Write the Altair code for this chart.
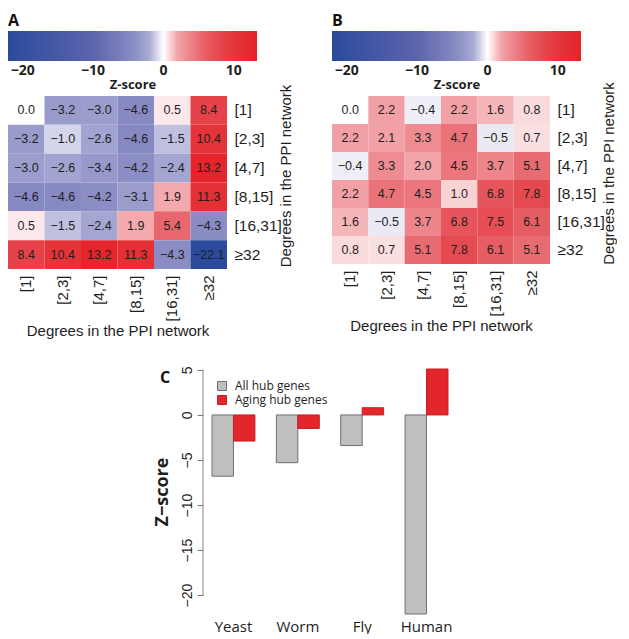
import altair as alt
import pandas as pd

# ---------------- data ----------------
degree_bins = ["[1]", "[2,3]", "[4,7]", "[8,15]", "[16,31]", "≥32"]

z_all = [
    [0.0, -3.2, -3.0, -4.6, 0.5, 8.4],
    [-3.2, -1.0, -2.6, -4.6, -1.5, 10.4],
    [-3.0, -2.6, -3.4, -4.2, -2.4, 13.2],
    [-4.6, -4.6, -4.2, -3.1, 1.9, 11.3],
    [0.5, -1.5, -2.4, 1.9, 5.4, -4.3],
    [8.4, 10.4, 13.2, 11.3, -4.3, -22.1],
]
z_aging = [
    [0.0, 2.2, -0.4, 2.2, 1.6, 0.8],
    [2.2, 2.1, 3.3, 4.7, -0.5, 0.7],
    [-0.4, 3.3, 2.0, 4.5, 3.7, 5.1],
    [2.2, 4.7, 4.5, 1.0, 6.8, 7.8],
    [1.6, -0.5, 3.7, 6.8, 7.5, 6.1],
    [0.8, 0.7, 5.1, 7.8, 6.1, 5.1],
]

species = ["Yeast", "Worm", "Fly", "Human"]
all_hub = [-6.8, -5.3, -3.4, -22.1]
aging_hub = [-2.9, -1.5, 0.8, 5.1]
series_names = ["All hub genes", "Aging hub genes"]

colorbar_ticks = [-20, -10, 0, 10]
zscore_ticks = [5, 0, -5, -10, -15, -20]

# colour ramp of the heatmaps
color_stops = [-22.1, -10, -4.5, -2, 0, 2, 5.5, 9, 13.3]
color_values = ["#2b4a9b", "#5c64ac", "#878ac2", "#a9abd4", "#ffffff",
                "#f2a4a9", "#e8646b", "#e43c42", "#e4242a"]

TXT = "#1e1e1e"


def fmt(v):
    s = f"{abs(v):.1f}"
    return ("\u2212" + s) if v < 0 else s


def heatmap(mat, letter, w, h):
    recs = []
    for i, r in enumerate(degree_bins):
        for j, c in enumerate(degree_bins):
            v = mat[i][j]
            recs.append({"row": r, "col": c, "z": v, "label": fmt(v)})
    df = pd.DataFrame(recs)
    base = alt.Chart(df).encode(
        x=alt.X("col:N", sort=degree_bins,
                axis=alt.Axis(title="Degrees in the PPI network", labelAngle=270,
                              labelFont="Liberation Sans", labelFontSize=15,
                              labelColor=TXT, domain=False, ticks=False,
                              labelPadding=6, titleFont="Liberation Sans",
                              titleFontSize=15, titleFontWeight="normal",
                              titleColor=TXT, titlePadding=3)),
        y=alt.Y("row:N", sort=degree_bins,
                axis=alt.Axis(orient="right", title="Degrees in the PPI network",
                              titleAngle=270, titleBaseline="top",
                              titleY=h / 2 - 7,
                              labelFont="Liberation Sans",
                              labelFontSize=15.5, labelColor=TXT, domain=False,
                              ticks=False, labelPadding=7,
                              titleFont="Liberation Sans", titleFontSize=15,
                              titleFontWeight="normal", titleColor=TXT,
                              titlePadding=-3)),
    )
    rect = base.mark_rect().encode(
        color=alt.Color(
            "z:Q",
            scale=alt.Scale(domain=color_stops, range=color_values,
                            interpolate="rgb", clamp=True),
            legend=alt.Legend(orient="none", legendX=0, legendY=-65,
                              direction="horizontal", gradientLength=249,
                              gradientThickness=30, gradientStrokeWidth=0,
                              title="Z-score", titleOrient="bottom",
                              titleAnchor="middle", titleFont="Open Sans",
                              titleFontSize=13, titleFontWeight="bold",
                              titleColor=TXT, titlePadding=1,
                              values=colorbar_ticks, labelOverlap=False,
                              labelFont="Open Sans", labelFontSize=14,
                              labelFontWeight="bold", labelColor=TXT,
                              labelOffset=3, format="d"),
        )
    )
    text = base.mark_text(font="Liberation Sans", fontSize=12.5, color=TXT).encode(
        text="label:N")
    return alt.layer(rect, text).properties(
        width=w, height=h,
        title=alt.TitleParams(letter, anchor="start", frame="group",
                              font="Open Sans", fontSize=16, fontWeight="bold",
                              color="#111", offset=2),
    )


panel_a = heatmap(z_all, "A", 219, 173)
panel_b = heatmap(z_aging, "B", 218, 168)

# ---------------- panel C ----------------
recs = []
for s, a, g in zip(species, all_hub, aging_hub):
    recs.append({"species": s, "series": series_names[0], "z": a})
    recs.append({"species": s, "series": series_names[1], "z": g})
dfc = pd.DataFrame(recs)

ydom = [-22.1, 5.1]
bars = alt.Chart(dfc).mark_bar(strokeWidth=1).encode(
    x=alt.X("species:N", sort=species,
            scale=alt.Scale(paddingInner=0.333, paddingOuter=0.14),
            axis=alt.Axis(title=None, labelAngle=0, domain=False, ticks=False,
                          labelFont="Open Sans", labelFontSize=15,
                          labelColor=TXT, labelPadding=5)),
    xOffset=alt.XOffset("series:N", sort=series_names,
                        scale=alt.Scale(paddingInner=0, paddingOuter=0)),
    y=alt.Y("z:Q", scale=alt.Scale(domain=ydom, nice=False, zero=True),
            axis=alt.Axis(values=zscore_ticks, title="Z\u2212score",
                          titleFont="Open Sans", titleFontSize=18,
                          titleFontWeight="bold", titleColor=TXT,
                          titlePadding=9, labelAngle=270, labelAlign="center",
                          labelBaseline="bottom", labelFont="Liberation Sans",
                          labelFontSize=14, labelColor=TXT, labelPadding=3,
                          domain=False, grid=False, tickSize=6,
                          tickColor="#777", tickWidth=1)),
    color=alt.Color("series:N",
                    scale=alt.Scale(domain=series_names,
                                    range=["#bfbfbf", "#e3262c"]),
                    legend=alt.Legend(orient="none", legendX=13, legendY=11,
                                      title=None, symbolType="square",
                                      symbolSize=80, symbolStrokeWidth=1,
                                      labelFont="Open Sans", labelFontSize=12,
                                      labelColor=TXT, labelOffset=7,
                                      rowPadding=0)),
    stroke=alt.Stroke("series:N",
                      scale=alt.Scale(domain=series_names,
                                      range=["#707070", "#c81e24"]),
                      legend=None),
)
axis_df = pd.DataFrame({"lo": [zscore_ticks[-1]], "hi": [zscore_ticks[0]]})
axis_line = alt.Chart(axis_df).mark_rule(color="#888", strokeWidth=1).encode(
    x=alt.value(0), y=alt.Y("lo:Q", scale=alt.Scale(domain=ydom, nice=False)),
    y2="hi:Q")

panel_c = alt.layer(bars, axis_line).properties(
    width=254, height=245,
    title=alt.TitleParams("C", anchor="start", frame="group", font="Open Sans",
                          fontSize=16, fontWeight="bold", color="#111",
                          dx=-43, dy=24),
)

# empty spacer that pushes panel C to the right
spacer = alt.Chart(pd.DataFrame({"s": [0]})).mark_text(text="").properties(
    width=145, height=10)

top = alt.hconcat(panel_a, panel_b, spacing=38).resolve_scale(
    color="independent").resolve_legend(color="independent")

bottom = alt.hconcat(spacer, panel_c, spacing=0).resolve_scale(
    color="independent", stroke="independent")

chart = alt.vconcat(top, bottom, spacing=27).resolve_scale(
    color="independent", stroke="independent").resolve_legend(
    color="independent").properties(
    padding={"left": 0, "top": 5, "right": 0, "bottom": 0}).configure_view(
    stroke=None)

chart.save("out.html", embed_options={"renderer": "svg", "actions": False})
